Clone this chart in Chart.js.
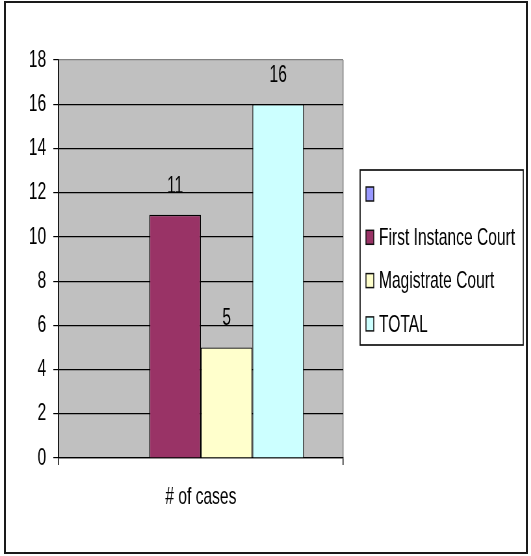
<!DOCTYPE html>
<html>
<head>
<meta charset="utf-8">
<script src="https://cdn.jsdelivr.net/npm/chart.js@4.4.1/dist/chart.umd.min.js"></script>
<style>
  html, body { margin: 0; padding: 0; background: #fff; }
  #frame { position: relative; width: 531px; height: 556px; overflow: hidden; background: #fff; }
  /* the chart is laid out wide and then narrowed, giving the condensed lettering */
  #chart { position: absolute; left: 0; top: 0; width: 817px; height: 556px;
           transform: scaleX(0.65); transform-origin: 0 0; }
  #border { position: absolute; left: 4px; top: 1px; width: 524px; height: 553px;
            box-sizing: border-box; border: 2px solid #1a1a1a; pointer-events: none; }
</style>
</head>
<body>
<div id="frame">
  <canvas id="chart" width="817" height="556"></canvas>
  <div id="border"></div>
</div>
<script>
// Court case counts
const categories = ['# of cases'];
const seriesNames = ['', 'First Instance Court', 'Magistrate Court', 'TOTAL'];
const seriesValues = [
  [null],  // unnamed series, no value
  [11],
  [5],
  [16]
];
const seriesColors = ['#9999ff', '#993366', '#ffffcc', '#ccffff'];
const yTicks = [0, 2, 4, 6, 8, 10, 12, 14, 16, 18];

const FONT = '"Liberation Sans", Arial, sans-serif';
const FONT_SIZE = 24;

// grey plot area behind grid and bars
const plotBackground = {
  id: 'plotBackground',
  beforeDraw(chart) {
    const { ctx, chartArea: a } = chart;
    ctx.save();
    ctx.fillStyle = '#c0c0c0';
    ctx.fillRect(a.left, a.top, a.right - a.left, a.bottom - a.top);
    ctx.restore();
  }
};

// value written above each bar
const valueLabels = {
  id: 'valueLabels',
  afterDatasetsDraw(chart) {
    const { ctx } = chart;
    ctx.save();
    ctx.font = FONT_SIZE + 'px ' + FONT;
    ctx.fillStyle = '#000';
    ctx.textAlign = 'center';
    ctx.textBaseline = 'alphabetic';
    chart.data.datasets.forEach((ds, i) => {
      const meta = chart.getDatasetMeta(i);
      meta.data.forEach((bar, j) => {
        const v = ds.data[j];
        if (v === null || v === undefined) return;
        ctx.fillText(String(v), bar.x, bar.y - 22);
      });
    });
    ctx.restore();
  }
};

// boxed legend to the right of the plot
const boxedLegend = {
  id: 'boxedLegend',
  afterDraw(chart) {
    const { ctx } = chart;
    const box = { left: 554, top: 170, right: 805, bottom: 345 };
    const firstRow = 194, rowGap = 43.3;
    ctx.save();
    ctx.lineWidth = 1.7;
    ctx.strokeStyle = '#111';
    ctx.strokeRect(box.left, box.top, box.right - box.left, box.bottom - box.top);
    ctx.font = FONT_SIZE + 'px ' + FONT;
    ctx.textAlign = 'left';
    ctx.textBaseline = 'middle';
    chart.data.datasets.forEach((ds, i) => {
      const cy = firstRow + i * rowGap;
      ctx.fillStyle = ds.backgroundColor;
      ctx.fillRect(563, cy - 7, 12, 14);
      ctx.lineWidth = 1.5;
      ctx.strokeStyle = '#111';
      ctx.strokeRect(563, cy - 7, 12, 14);
      ctx.fillStyle = '#000';
      ctx.fillText(ds.label, 583, cy + 1);
    });
    ctx.restore();
  }
};

const datasets = seriesNames.map((name, i) => ({
  label: name,
  data: seriesValues[i],
  backgroundColor: seriesColors[i],
  borderColor: '#000',
  borderWidth: 1.4,
  borderSkipped: 'start',
  categoryPercentage: 0.724,
  barPercentage: 1.0
}));

new Chart(document.getElementById('chart'), {
  type: 'bar',
  data: { labels: categories, datasets },
  plugins: [plotBackground, valueLabels, boxedLegend],
  options: {
    responsive: false,
    animation: false,
    devicePixelRatio: 1,
    layout: { padding: { left: 0, top: 60, right: 289, bottom: 28 } },
    plugins: { legend: { display: false }, tooltip: { enabled: false } },
    scales: {
      x: {
        offset: true,
        afterFit(scale) { scale.height = 70; },
        grid: {
          offset: true,
          drawOnChartArea: true,
          color: '#808080',
          lineWidth: 1.5,
          tickColor: '#000',
          tickLength: 7,
          tickWidth: 1.5
        },
        border: { display: true, color: '#000', width: 1.3 },
        ticks: {
          color: '#000',
          padding: 18,
          font: { family: FONT, size: FONT_SIZE }
        }
      },
      y: {
        min: 0,
        max: 18,
        afterFit(scale) { scale.width = 90; },
        afterBuildTicks(scale) { scale.ticks = yTicks.map(v => ({ value: v })); },
        grid: {
          color: (c) => (c.tick && c.tick.value === 18 ? '#808080' : '#000'),
          lineWidth: 1.2,
          tickColor: '#000',
          tickLength: 8
        },
        border: { display: true, color: '#000', width: 1.7 },
        ticks: {
          color: '#000',
          padding: 11,
          font: { family: FONT, size: FONT_SIZE }
        }
      }
    }
  }
});
</script>
</body>
</html>
